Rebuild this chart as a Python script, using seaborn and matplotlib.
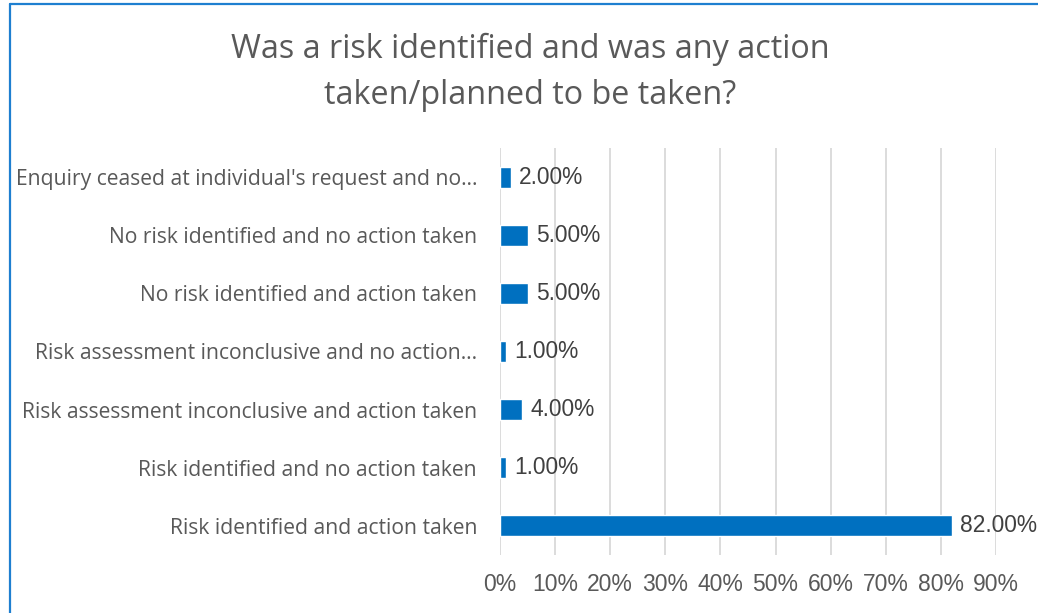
import pandas as pd
import matplotlib.pyplot as plt
import seaborn as sns
from matplotlib.lines import Line2D

# --- Data (top to bottom as shown) ---
categories = [
    "Enquiry ceased at individual's request and no\u2026",
    "No risk identified and no action taken",
    "No risk identified and action taken",
    "Risk assessment inconclusive and no action\u2026",
    "Risk assessment inconclusive and action taken",
    "Risk identified and no action taken",
    "Risk identified and action taken",
]
percent = [2, 5, 5, 1, 4, 1, 82]
x_ticks = [0, 10, 20, 30, 40, 50, 60, 70, 80, 90]

df = pd.DataFrame({'category': categories, 'percent': percent})

sns.set_style('white')
plt.rcParams['font.family'] = ['Liberation Sans', 'DejaVu Sans']

text_grey = '#595959'
bar_blue = '#0070C0'

fig = plt.figure(figsize=(10.38, 6.13), dpi=100)
ax = fig.add_axes([0.4817, 0.0946, 0.4778, 0.664])

sns.barplot(data=df, x='percent', y='category', orient='h', color=bar_blue,
            width=0.36, ax=ax, saturation=1)

ax.set_xlim(0, 90)
ax.set_xticks(x_ticks)
ax.set_xticklabels([f'{t}%' for t in x_ticks])
ax.xaxis.grid(True, color='#D9D9D9', linewidth=1.3)
ax.set_axisbelow(True)
for s in ax.spines.values():
    s.set_visible(False)
ax.tick_params(axis='x', length=0, pad=13, labelsize=16.5, colors=text_grey)
ax.tick_params(axis='y', length=0, pad=16.5, colors=text_grey)
for lab in ax.get_yticklabels():
    lab.set_fontfamily(['Open Sans', 'DejaVu Sans'])
    lab.set_fontsize(15.2)
ax.set_xlabel('')
ax.set_ylabel('')

ax.bar_label(ax.containers[0], labels=[f'{v:.2f}%' for v in percent],
             padding=6, fontsize=16.4, color='#404040')

fig.text(0.511, 0.882, 'Was a risk identified and was any action\ntaken/planned to be taken?',
         ha='center', va='center', fontsize=23.3, color=text_grey,
         family=['Open Sans', 'DejaVu Sans'], linespacing=1.55)

# blue chart border (left and top edges visible)
border = '#1E7FD0'
fig.add_artist(Line2D([9.5 / 1038, 9.5 / 1038], [0, 1 - 4 / 613],
                      transform=fig.transFigure, color=border, linewidth=1.6))
fig.add_artist(Line2D([9.5 / 1038, 1], [1 - 4 / 613, 1 - 4 / 613],
                      transform=fig.transFigure, color=border, linewidth=1.6))

fig.savefig('out.png', dpi=100)
